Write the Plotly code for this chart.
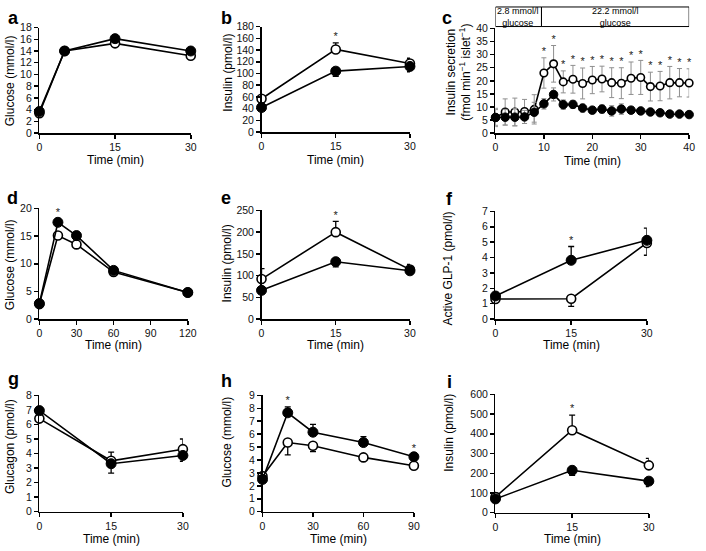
import plotly.graph_objects as go

# ---------------- data ----------------
# a: glucose (mmol/l)
a_time = [0, 5, 15, 30]
a_open = [3.4, 14.0, 15.3, 13.2]
a_open_up = [0, 0, 0, 0]
a_open_down = [0, 0, 0, 0]
a_filled = [3.7, 14.0, 16.1, 14.0]
a_filled_up = [0, 0, 0, 0]
a_filled_down = [0, 0, 0, 0]
a_stars = []

# b: insulin (pmol/l)
b_time = [0, 15, 30]
b_open = [57, 141, 117]
b_open_up = [4, 11, 9]
b_open_down = [0, 0, 0]
b_filled = [42, 104, 112]
b_filled_up = [0, 0, 0]
b_filled_down = [4, 9, 9]
b_stars = [15]

# c: insulin secretion (fmol min-1 islet-1)
c_time = [0, 2, 4, 6, 8, 10, 12, 14, 16, 18, 20, 22, 24, 26, 28, 30, 32, 34, 36, 38, 40]
c_open = [6.0, 8.1, 8.1, 8.3, 9.1, 23.0, 26.5, 19.6, 20.6, 19.0, 20.3, 20.7, 19.3, 19.1, 21.0, 21.3, 17.8, 18.0, 19.3, 19.3, 19.2]
c_open_err = [3.5, 5.0, 5.3, 4.6, 5.6, 5.8, 7.0, 4.2, 5.3, 5.9, 5.2, 4.9, 5.7, 5.9, 6.2, 6.5, 5.5, 5.6, 6.2, 5.4, 5.4]
c_filled = [6.0, 6.1, 6.1, 6.2, 8.0, 11.2, 14.8, 10.9, 11.0, 9.6, 8.8, 9.2, 8.5, 9.2, 8.8, 8.5, 8.1, 7.8, 7.3, 7.3, 7.1]
c_filled_err = [3.0, 3.0, 3.3, 2.5, 3.8, 2.0, 2.5, 1.8, 1.5, 1.5, 1.3, 1.6, 2.0, 2.0, 1.3, 1.0, 1.0, 0.9, 0.9, 0.8, 0.8]
c_stars = [10, 12, 14, 16, 18, 20, 22, 24, 26, 28, 30, 32, 34, 36, 38, 40]
c_switch = 9.5
c_box_labels = ["2.8 mmol/l<br>glucose", "22.2 mmol/l<br>glucose"]

# d: glucose (mmol/l)
d_time = [0, 15, 30, 60, 120]
d_open = [2.7, 15.1, 13.5, 8.5, 4.8]
d_open_up = [0, 0, 0, 0, 0]
d_open_down = [0, 0.6, 0.4, 0, 0]
d_filled = [2.8, 17.5, 15.1, 8.8, 4.8]
d_filled_up = [0, 0.6, 0.4, 0, 0]
d_filled_down = [0, 0, 0, 0, 0]
d_stars = [15]

# e: insulin (pmol/l)
e_time = [0, 15, 30]
e_open = [92, 200, 114]
e_open_up = [24, 25, 12]
e_open_down = [0, 0, 0]
e_filled = [66, 132, 111]
e_filled_up = [0, 0, 0]
e_filled_down = [6, 12, 8]
e_stars = [15]

# f: active GLP-1 (pmol/l)
f_time = [0, 15, 30]
f_open = [1.3, 1.32, 4.95]
f_open_up = [0, 0, 0]
f_open_down = [0.2, 0.5, 0.8]
f_filled = [1.5, 3.82, 5.12]
f_filled_up = [0.15, 0.9, 0.8]
f_filled_down = [0, 0, 0]
f_stars = [15]

# g: glucagon (pmol/l)
g_time = [0, 15, 30]
g_open = [6.4, 3.5, 4.3]
g_open_up = [0.1, 0.6, 0.7]
g_open_down = [0, 0, 0]
g_filled = [6.95, 3.3, 3.87]
g_filled_up = [0, 0, 0]
g_filled_down = [0.1, 0.65, 0.4]
g_stars = []

# h: glucose (mmol/l)
h_time = [0, 15, 30, 60, 90]
h_open = [2.75, 5.35, 5.1, 4.2, 3.55]
h_open_up = [0, 0, 0, 0, 0]
h_open_down = [0.1, 0.95, 0.45, 0.1, 0.1]
h_filled = [2.5, 7.65, 6.15, 5.35, 4.25]
h_filled_up = [0.1, 0.45, 0.6, 0.45, 0.15]
h_filled_down = [0, 0, 0, 0, 0]
h_stars = [15, 90]

# i: insulin (pmol/l)
i_time = [0, 15, 30]
i_open = [80, 418, 240]
i_open_up = [20, 77, 35]
i_open_down = [0, 0, 0]
i_filled = [70, 215, 160]
i_filled_up = [0, 0, 0]
i_filled_down = [10, 25, 28]
i_stars = [15]

# tick / label text
x_title = "Time (min)"
y_titles = {
    "a": "Glucose (mmol/l)", "b": "Insulin (pmol/l)",
    "c": "Insulin secretion<br>(fmol min<sup>\u22121</sup> islet<sup>\u22121</sup>)",
    "d": "Glucose (mmol/l)", "e": "Insulin (pmol/l)", "f": "Active GLP-1 (pmol/l)",
    "g": "Glucagon (pmol/l)", "h": "Glucose (mmol/l)", "i": "Insulin (pmol/l)",
}

# ---------------- layout config (pixels) ----------------
W, H = 706, 551
FONT = "Liberation Sans, Arial, Helvetica, sans-serif"

panels = [
    dict(k="a", t=a_time, o=a_open, ou=a_open_up, od=a_open_down, f=a_filled, fu=a_filled_up, fd=a_filled_down, s=a_stars,
         xd=(37, 191), yd=(22, 130), xmax=30, xt=[0, 15, 30], ymax=18, dt=2, lp=(11, 12), yp=(7, 76), xtp=157),
    dict(k="b", t=b_time, o=b_open, ou=b_open_up, od=b_open_down, f=b_filled, fu=b_filled_up, fd=b_filled_down, s=b_stars,
         xd=(263, 414), yd=(21, 129), xmax=30, xt=[0, 15, 30], ymax=180, dt=20, lp=(227, 12), yp=(228, 68), xtp=157),
    dict(k="c", t=c_time, f=c_filled, s=c_stars,
         xd=(501, 698), yd=(23, 130), xmax=40, xt=[0, 10, 20, 30, 40], ymax=40, dt=5, lp=(452, 12), yp=(463, 68), xtp=158),
    dict(k="d", t=d_time, o=d_open, ou=d_open_up, od=d_open_down, f=d_filled, fu=d_filled_up, fd=d_filled_down, s=d_stars,
         xd=(37, 188), yd=(207, 320), xmax=120, xt=[0, 30, 60, 90, 120], ymax=20, dt=5, lp=(10, 196), yp=(7, 264), xtp=347),
    dict(k="e", t=e_time, o=e_open, ou=e_open_up, od=e_open_down, f=e_filled, fu=e_filled_up, fd=e_filled_down, s=e_stars,
         xd=(263, 414), yd=(209, 320), xmax=30, xt=[0, 15, 30], ymax=250, dt=50, lp=(227, 196), yp=(228, 263), xtp=347),
    dict(k="f", t=f_time, o=f_open, ou=f_open_up, od=f_open_down, f=f_filled, fu=f_filled_up, fd=f_filled_down, s=f_stars,
         xd=(501, 655), yd=(210, 320), xmax=30, xt=[0, 15, 30], ymax=7, dt=1, lp=(454, 197), yp=(453, 268), xtp=347),
    dict(k="g", t=g_time, o=g_open, ou=g_open_up, od=g_open_down, f=g_filled, fu=g_filled_up, fd=g_filled_down, s=g_stars,
         xd=(37, 183), yd=(398, 517), xmax=30, xt=[0, 15, 30], ymax=8, dt=1, lp=(11, 381), yp=(7, 450), xtp=545),
    dict(k="h", t=h_time, o=h_open, ou=h_open_up, od=h_open_down, f=h_filled, fu=h_filled_up, fd=h_filled_down, s=h_stars,
         xd=(264, 418), yd=(398, 517), xmax=90, xt=[0, 30, 60, 90], ymax=9, dt=1, lp=(227, 383), yp=(228, 446), xtp=545),
    dict(k="i", t=i_time, o=i_open, ou=i_open_up, od=i_open_down, f=i_filled, fu=i_filled_up, fd=i_filled_down, s=i_stars,
         xd=(501, 657), yd=(397, 518), xmax=30, xt=[0, 15, 30], ymax=600, dt=100, lp=(454, 384), yp=(453, 436), xtp=545),
]

fig = go.Figure()
annotations = []
shapes = []
layout_axes = {}


def px_x(p):
    return p / W


def px_y(p):
    return 1 - p / H


for idx, p in enumerate(panels):
    n = idx + 1
    xa = "x" if n == 1 else f"x{n}"
    ya = "y" if n == 1 else f"y{n}"
    xkey = "xaxis" if n == 1 else f"xaxis{n}"
    ykey = "yaxis" if n == 1 else f"yaxis{n}"
    common = dict(showgrid=False, zeroline=False, showline=True, linecolor="black", linewidth=1.5,
                  ticks="outside", ticklen=4, tickwidth=1.5, tickcolor="black",
                  tickfont=dict(family=FONT, size=10.5, color="#111"), fixedrange=True,
                  ticklabeloverflow="allow")
    layout_axes[xkey] = dict(common, domain=[px_x(p["xd"][0]), px_x(p["xd"][1])], anchor=ya,
                             range=[0, p["xmax"]], tickvals=p["xt"], ticktext=[str(v) for v in p["xt"]])
    layout_axes[ykey] = dict(common, domain=[px_y(p["yd"][1]), px_y(p["yd"][0])], anchor=xa,
                             range=[0, p["ymax"]], dtick=p["dt"], tick0=0)

    if p["k"] == "c":
        msize, lw = 8.5, 1.6
        open_err = dict(type="data", array=c_open_err, symmetric=True, color="#8f8f8f", thickness=1, width=2.5)
        fill_err = dict(type="data", array=c_filled_err, symmetric=True, color="#8f8f8f", thickness=1, width=2.5)
        o_vals, f_vals = c_open, c_filled
        o_top = [v + e for v, e in zip(c_open, c_open_err)]
        f_top = [v + e for v, e in zip(c_filled, c_filled_err)]
    else:
        msize, lw = 10, 1.6
        open_err = dict(type="data", symmetric=False, array=p["ou"], arrayminus=p["od"], color="black", thickness=1.3, width=3)
        fill_err = dict(type="data", symmetric=False, array=p["fu"], arrayminus=p["fd"], color="black", thickness=1.3, width=3)
        o_vals, f_vals = p["o"], p["f"]
        o_top = [v + e for v, e in zip(p["o"], p["ou"])]
        f_top = [v + e for v, e in zip(p["f"], p["fu"])]

    fig.add_trace(go.Scatter(x=p["t"], y=o_vals, mode="lines+markers", xaxis=xa, yaxis=ya,
                             line=dict(color="black", width=lw), cliponaxis=False,
                             marker=dict(symbol="circle", size=msize - 1, color="white", line=dict(color="black", width=1.6)),
                             error_y=open_err, showlegend=False, hoverinfo="skip"))
    fig.add_trace(go.Scatter(x=p["t"], y=f_vals, mode="lines+markers", xaxis=xa, yaxis=ya,
                             line=dict(color="black", width=lw), cliponaxis=False,
                             marker=dict(symbol="circle", size=msize, color="black", line=dict(color="black", width=1)),
                             error_y=fill_err, showlegend=False, hoverinfo="skip"))
    if p["s"]:
        sy = []
        for st in p["s"]:
            j = list(p["t"]).index(st)
            sy.append(max(o_top[j], f_top[j]))
        fig.add_trace(go.Scatter(x=p["s"], y=sy, mode="text", text=["*"] * len(p["s"]), textposition="top center",
                                 textfont=dict(family=FONT, size=11, color="#222"), xaxis=xa, yaxis=ya,
                                 cliponaxis=False, showlegend=False, hoverinfo="skip"))

    # panel letter
    annotations.append(dict(text=f"<b>{p['k']}</b>", x=px_x(p["lp"][0]), y=px_y(p["lp"][1]), xref="paper", yref="paper",
                            showarrow=False, xanchor="center", yanchor="middle",
                            font=dict(family=FONT, size=18, color="black")))
    # y title
    annotations.append(dict(text=y_titles[p["k"]], x=px_x(p["yp"][0]), y=px_y(p["yp"][1]), xref="paper", yref="paper",
                            showarrow=False, xanchor="center", yanchor="middle", textangle=-90,
                            font=dict(family=FONT, size=12, color="black")))
    # x title
    annotations.append(dict(text=x_title, x=px_x((p["xd"][0] + p["xd"][1]) / 2), y=px_y(p["xtp"]),
                            xref="paper", yref="paper", showarrow=False, xanchor="center", yanchor="middle",
                            borderpad=0, font=dict(family=FONT, size=12, color="black")))

# glucose condition box above panel c
box_edges = [0, c_switch, 40]
for bi in range(2):
    shapes.append(dict(type="rect", xref="x3", yref="paper", x0=box_edges[bi], x1=box_edges[bi + 1],
                       y0=px_y(21), y1=px_y(1), line=dict(color="black", width=1)))
    annotations.append(dict(text=c_box_labels[bi], x=(box_edges[bi] + box_edges[bi + 1]) / 2, y=px_y(11),
                            xref="x3", yref="paper", showarrow=False, xanchor="center", yanchor="middle",
                            font=dict(family=FONT, size=9, color="black")))

fig.update_layout(width=W, height=H, margin=dict(l=0, r=0, t=0, b=0),
                  paper_bgcolor="white", plot_bgcolor="white",
                  annotations=annotations, shapes=shapes, **layout_axes)

fig.write_html("out.html", config={"displayModeBar": False, "staticPlot": True},
               post_script="document.body.style.margin='0';document.body.style.padding='0';"
                           "document.body.style.overflow='hidden';")
